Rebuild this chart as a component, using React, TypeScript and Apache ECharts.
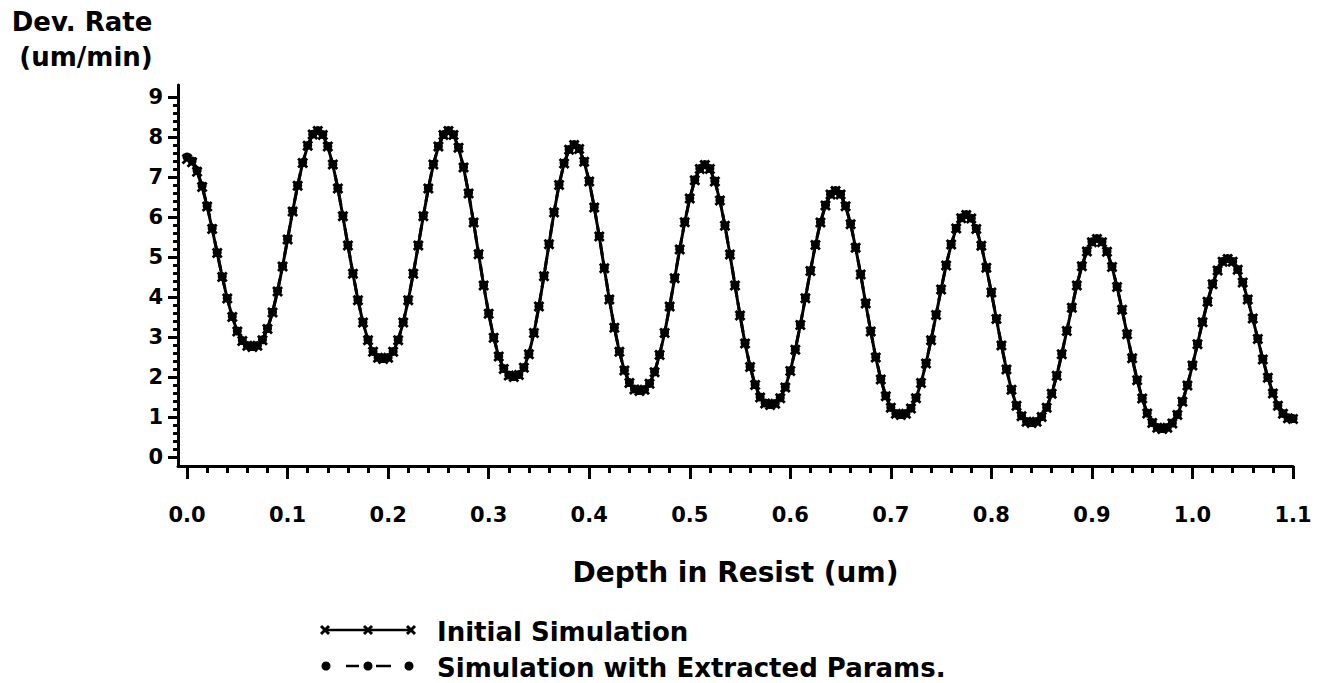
import React, { useEffect, useRef } from "react";
import * as echarts from "echarts";

// Resist depth is sampled on a uniform grid (um)
const DEPTH_STEP = 0.005;

// Development rate (um/min), initial simulation
const INITIAL_RATE = [
  7.45, 7.37, 7.13, 6.75, 6.26, 5.70, 5.10, 4.50, 3.96, 3.50,
  3.14, 2.90, 2.78, 2.75, 2.78, 2.92, 3.20, 3.61, 4.14, 4.76,
  5.44, 6.14, 6.78, 7.35, 7.78, 8.06, 8.15, 8.05, 7.76, 7.31,
  6.71, 6.02, 5.29, 4.58, 3.92, 3.36, 2.92, 2.63, 2.48, 2.45,
  2.48, 2.63, 2.92, 3.36, 3.92, 4.58, 5.29, 6.02, 6.71, 7.31,
  7.76, 8.05, 8.15, 8.05, 7.73, 7.24, 6.59, 5.86, 5.07, 4.29,
  3.58, 2.98, 2.51, 2.20, 2.04, 2.00, 2.05, 2.23, 2.57, 3.10,
  3.76, 4.52, 5.32, 6.11, 6.80, 7.34, 7.68, 7.80, 7.70, 7.38,
  6.89, 6.24, 5.51, 4.72, 3.94, 3.23, 2.63, 2.16, 1.85, 1.69,
  1.65, 1.68, 1.83, 2.12, 2.55, 3.10, 3.76, 4.47, 5.19, 5.87,
  6.46, 6.92, 7.20, 7.30, 7.20, 6.89, 6.41, 5.78, 5.06, 4.29,
  3.54, 2.84, 2.25, 1.80, 1.49, 1.34, 1.30, 1.33, 1.47, 1.74,
  2.15, 2.68, 3.30, 3.97, 4.65, 5.30, 5.86, 6.29, 6.56, 6.65,
  6.56, 6.27, 5.82, 5.23, 4.56, 3.84, 3.14, 2.49, 1.94, 1.52,
  1.23, 1.08, 1.05, 1.08, 1.21, 1.47, 1.85, 2.34, 2.92, 3.55,
  4.19, 4.79, 5.31, 5.71, 5.97, 6.05, 5.96, 5.70, 5.28, 4.73,
  4.11, 3.45, 2.79, 2.19, 1.68, 1.28, 1.02, 0.88, 0.85, 0.88,
  1.00, 1.23, 1.58, 2.03, 2.57, 3.15, 3.73, 4.29, 4.77, 5.14,
  5.37, 5.45, 5.37, 5.13, 4.75, 4.25, 3.68, 3.07, 2.47, 1.92,
  1.46, 1.09, 0.85, 0.73, 0.70, 0.73, 0.84, 1.05, 1.38, 1.79,
  2.29, 2.82, 3.37, 3.88, 4.32, 4.66, 4.88, 4.95, 4.88, 4.68,
  4.36, 3.94, 3.46, 2.95, 2.44, 1.98, 1.59, 1.28, 1.08, 0.97,
  0.95,
];

// Development rate (um/min), simulation with the extracted parameters
const EXTRACTED_RATE = [
  7.50, 7.40, 7.16, 6.78, 6.28, 5.72, 5.11, 4.51, 3.97, 3.51,
  3.15, 2.91, 2.79, 2.76, 2.79, 2.93, 3.21, 3.62, 4.15, 4.77,
  5.45, 6.15, 6.79, 7.36, 7.79, 8.07, 8.16, 8.06, 7.77, 7.32,
  6.72, 6.03, 5.30, 4.59, 3.93, 3.37, 2.93, 2.64, 2.49, 2.46,
  2.49, 2.64, 2.93, 3.37, 3.93, 4.59, 5.30, 6.03, 6.72, 7.32,
  7.77, 8.06, 8.16, 8.06, 7.74, 7.25, 6.60, 5.87, 5.08, 4.30,
  3.59, 2.99, 2.52, 2.21, 2.05, 2.01, 2.06, 2.24, 2.58, 3.11,
  3.77, 4.53, 5.33, 6.12, 6.81, 7.35, 7.69, 7.81, 7.71, 7.39,
  6.90, 6.25, 5.52, 4.73, 3.95, 3.24, 2.64, 2.17, 1.86, 1.70,
  1.66, 1.69, 1.84, 2.13, 2.56, 3.11, 3.77, 4.48, 5.20, 5.88,
  6.47, 6.93, 7.21, 7.31, 7.21, 6.90, 6.42, 5.79, 5.07, 4.30,
  3.55, 2.85, 2.26, 1.81, 1.50, 1.35, 1.31, 1.34, 1.48, 1.75,
  2.16, 2.69, 3.31, 3.98, 4.66, 5.31, 5.87, 6.30, 6.57, 6.66,
  6.57, 6.28, 5.83, 5.24, 4.57, 3.85, 3.15, 2.50, 1.95, 1.53,
  1.24, 1.09, 1.06, 1.09, 1.22, 1.48, 1.86, 2.35, 2.93, 3.56,
  4.20, 4.80, 5.32, 5.72, 5.98, 6.06, 5.97, 5.71, 5.29, 4.74,
  4.12, 3.46, 2.80, 2.20, 1.69, 1.29, 1.03, 0.89, 0.86, 0.89,
  1.01, 1.24, 1.59, 2.04, 2.58, 3.16, 3.74, 4.30, 4.78, 5.15,
  5.38, 5.46, 5.38, 5.14, 4.76, 4.26, 3.69, 3.08, 2.48, 1.93,
  1.47, 1.10, 0.86, 0.74, 0.71, 0.74, 0.85, 1.06, 1.39, 1.80,
  2.30, 2.83, 3.38, 3.89, 4.33, 4.67, 4.89, 4.96, 4.89, 4.69,
  4.37, 3.95, 3.47, 2.96, 2.45, 1.99, 1.60, 1.29, 1.09, 0.98,
  0.96,
];

const X_TICK_VALUES = [0, 0.1, 0.2, 0.3, 0.4, 0.5, 0.6, 0.7, 0.8, 0.9, 1.0, 1.1];
const X_TICK_LABELS = ["0.0", "0.1", "0.2", "0.3", "0.4", "0.5", "0.6", "0.7", "0.8", "0.9", "1.0", "1.1"];
const Y_TICK_VALUES = [0, 1, 2, 3, 4, 5, 6, 7, 8, 9];
const Y_TICK_LABELS = ["0", "1", "2", "3", "4", "5", "6", "7", "8", "9"];

const SERIES_NAMES = ["Initial Simulation", "Simulation with Extracted Params."];

const FONT = "'DejaVu Sans', 'Liberation Sans', sans-serif";
const INK = "#000";

const X_MIN = -0.009;
const X_MAX = 1.1;
const Y_MIN = -0.225;
const Y_MAX = 9.3;

// minor ticks: every 0.02 um along depth, every 0.2 um/min along rate
const xMinor: number[] = [];
for (let k = 1; k < 55; k++) if (k % 5 !== 0) xMinor.push(+(k * 0.02).toFixed(2));
const yMinor: number[] = [];
for (let k = 1; k < 45; k++) if (k % 5 !== 0) yMinor.push(+(k * 0.2).toFixed(1));

const toPairs = (vals: number[]) => vals.map((v, i) => [+(i * DEPTH_STEP).toFixed(3), v]);

const CROSS =
  "path://M0,1.8L1.8,0L5,3.2L8.2,0L10,1.8L6.8,5L10,8.2L8.2,10L5,6.8L1.8,10L0,8.2L3.2,5Z";

const labelFor = (values: number[], labels: string[]) => (v: number) => {
  const idx = values.findIndex((t) => Math.abs(t - v) < 1e-9);
  return idx >= 0 ? labels[idx] : String(v);
};

function crossMark(cx: number, cy: number, r: number) {
  return [
    { type: "line", shape: { x1: cx - r, y1: cy - r, x2: cx + r, y2: cy + r }, style: { stroke: INK, lineWidth: 3 } },
    { type: "line", shape: { x1: cx - r, y1: cy + r, x2: cx + r, y2: cy - r }, style: { stroke: INK, lineWidth: 3 } },
  ];
}

export default function App() {
  const ref = useRef<HTMLDivElement>(null);

  useEffect(() => {
    if (!ref.current) return;
    const chart = echarts.init(ref.current, null, { renderer: "svg" });

    const axisText = { fontFamily: FONT, fontWeight: "bold", fontSize: 21, color: INK };
    const legendRow1 = 630;
    const legendRow2 = 666;

    chart.setOption({
      animation: false,
      backgroundColor: "#fff",
      grid: { left: 178, right: 24, top: 85, bottom: 217 },
      xAxis: [
        {
          type: "value",
          min: X_MIN,
          max: X_MAX,
          position: "bottom",
          axisLine: { show: true, onZero: false, lineStyle: { color: INK, width: 3 } },
          axisTick: { show: true, customValues: X_TICK_VALUES, length: 13, lineStyle: { color: INK, width: 3 } },
          axisLabel: {
            customValues: X_TICK_VALUES,
            formatter: labelFor(X_TICK_VALUES, X_TICK_LABELS),
            margin: 38,
            ...axisText,
          },
          splitLine: { show: false },
          name: "Depth in Resist (um)",
          nameLocation: "middle",
          nameGap: 92,
          nameTextStyle: { fontFamily: FONT, fontWeight: "bold", fontSize: 28, color: INK },
        },
        {
          type: "value",
          min: X_MIN,
          max: X_MAX,
          position: "bottom",
          axisLine: { show: false, onZero: false },
          axisTick: { show: true, customValues: xMinor, length: 7, lineStyle: { color: INK, width: 3 } },
          axisLabel: { show: false },
          splitLine: { show: false },
        },
      ],
      yAxis: [
        {
          type: "value",
          min: Y_MIN,
          max: Y_MAX,
          position: "left",
          axisLine: { show: true, onZero: false, lineStyle: { color: INK, width: 3 } },
          axisTick: { show: true, customValues: Y_TICK_VALUES, length: 10, lineStyle: { color: INK, width: 3 } },
          axisLabel: {
            customValues: Y_TICK_VALUES,
            formatter: labelFor(Y_TICK_VALUES, Y_TICK_LABELS),
            margin: 15,
            ...axisText,
          },
          splitLine: { show: false },
        },
        {
          type: "value",
          min: Y_MIN,
          max: Y_MAX,
          position: "left",
          axisLine: { show: false, onZero: false },
          axisTick: { show: true, customValues: yMinor, length: 5, lineStyle: { color: INK, width: 3 } },
          axisLabel: { show: false },
          splitLine: { show: false },
        },
      ],
      series: [
        {
          name: SERIES_NAMES[0],
          type: "line",
          xAxisIndex: 0,
          yAxisIndex: 0,
          data: toPairs(INITIAL_RATE),
          showAllSymbol: true,
          symbol: CROSS,
          symbolSize: 11,
          lineStyle: { color: INK, width: 3, type: "solid" },
          itemStyle: { color: INK },
        },
        {
          name: SERIES_NAMES[1],
          type: "line",
          xAxisIndex: 0,
          yAxisIndex: 0,
          data: toPairs(EXTRACTED_RATE),
          showAllSymbol: true,
          symbol: "circle",
          symbolSize: 9,
          lineStyle: { color: INK, width: 3, type: "dashed" },
          itemStyle: { color: INK },
        },
      ],
      graphic: [
        {
          type: "text",
          x: 82,
          y: 22,
          style: {
            text: "Dev. Rate",
            fontFamily: FONT,
            fontWeight: "bold",
            fontSize: 26,
            fill: INK,
            textAlign: "center",
            textVerticalAlign: "middle",
          },
        },
        {
          type: "text",
          x: 86,
          y: 57,
          style: {
            text: "(um/min)",
            fontFamily: FONT,
            fontWeight: "bold",
            fontSize: 26,
            fill: INK,
            textAlign: "center",
            textVerticalAlign: "middle",
          },
        },
        // legend, first row: solid line with crosses
        { type: "line", shape: { x1: 324, y1: legendRow1, x2: 412, y2: legendRow1 }, style: { stroke: INK, lineWidth: 2.5 } },
        ...crossMark(325, legendRow1, 4),
        ...crossMark(368, legendRow1, 4),
        ...crossMark(411, legendRow1, 4),
        {
          type: "text",
          x: 437,
          y: legendRow1 + 2,
          style: {
            text: SERIES_NAMES[0],
            fontFamily: FONT,
            fontWeight: "bold",
            fontSize: 26,
            fill: INK,
            textVerticalAlign: "middle",
          },
        },
        // legend, second row: dashed line with dots
        { type: "line", shape: { x1: 346, y1: legendRow2, x2: 359, y2: legendRow2 }, style: { stroke: INK, lineWidth: 2.5 } },
        { type: "line", shape: { x1: 376, y1: legendRow2, x2: 391, y2: legendRow2 }, style: { stroke: INK, lineWidth: 2.5 } },
        { type: "circle", shape: { cx: 326, cy: legendRow2, r: 4.5 }, style: { fill: INK } },
        { type: "circle", shape: { cx: 368, cy: legendRow2, r: 4.5 }, style: { fill: INK } },
        { type: "circle", shape: { cx: 409, cy: legendRow2, r: 4.5 }, style: { fill: INK } },
        {
          type: "text",
          x: 437,
          y: legendRow2 + 2,
          style: {
            text: SERIES_NAMES[1],
            fontFamily: FONT,
            fontWeight: "bold",
            fontSize: 26,
            fill: INK,
            textVerticalAlign: "middle",
          },
        },
      ],
    });

    return () => chart.dispose();
  }, []);

  return (
    <div
      ref={ref}
      style={{ position: "absolute", left: 0, top: 0, width: 1317, height: 683, background: "#fff" }}
    />
  );
}
